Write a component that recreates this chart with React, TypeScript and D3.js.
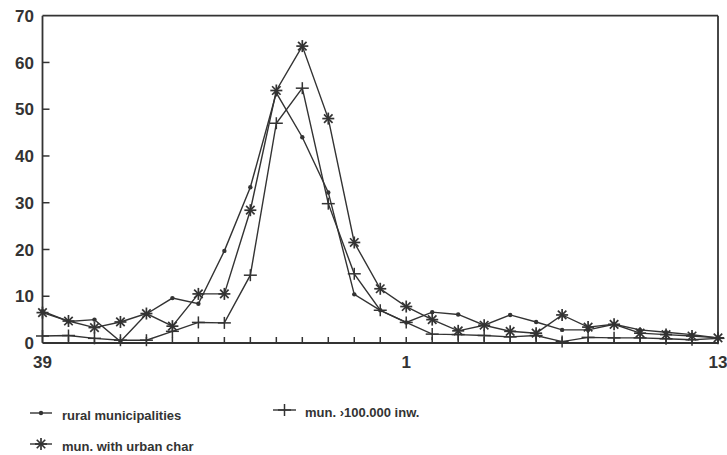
import React from "react";
import * as d3 from "d3";

const xLabels: string[] = [
  "39", "", "", "", "", "", "", "", "", "", "", "", "", "",
  "1", "", "", "", "", "", "", "", "", "", "", "", "13",
];

const ruralValues: number[] = [
  6.8, 4.6, 5.0, 0.3, 6.2, 9.6, 8.4, 19.7, 33.3, 53.5, 44.0, 32.2, 10.4, 7.0,
  4.4, 6.6, 6.1, 3.8, 6.0, 4.5, 2.8, 2.8, 4.0, 2.8, 2.3, 1.8, 1.1,
];

const urbanValues: number[] = [
  6.5, 4.7, 3.3, 4.5, 6.3, 3.6, 10.5, 10.5, 28.4, 54.0, 63.5, 48.0, 21.5, 11.6,
  7.8, 5.0, 2.6, 3.8, 2.5, 2.1, 6.0, 3.4, 4.0, 2.1, 1.8, 1.5, 1.1,
];

const bigValues: number[] = [
  1.5, 1.6, 1.0, 0.6, 0.6, 2.5, 4.4, 4.3, 14.5, 47.0, 54.5, 29.8, 14.8, 7.0,
  4.4, 1.9, 1.8, 1.6, 1.3, 1.6, 0.3, 1.2, 1.1, 1.1, 0.9, 0.7, 1.0,
];

const yTicks: number[] = [0, 10, 20, 30, 40, 50, 60, 70];

const legendLabels: string[] = [
  "rural municipalities",
  "mun. ›100.000 inw.",
  "mun. with urban char",
];

const INK = "#333";
const FONT = "'Liberation Sans', Arial, Helvetica, sans-serif";

type MarkerKind = "dot" | "star" | "plus";

function Marker({ kind, x, y }: { kind: MarkerKind; x: number; y: number }) {
  if (kind === "dot") {
    return <circle cx={x} cy={y} r={2.2} fill={INK} />;
  }
  if (kind === "plus") {
    return (
      <g stroke={INK} strokeWidth={1.5}>
        <line x1={x - 6.5} y1={y} x2={x + 6.5} y2={y} />
        <line x1={x} y1={y - 6} x2={x} y2={y + 6} />
      </g>
    );
  }
  const r = 6;
  const d = r * Math.SQRT1_2;
  return (
    <g stroke={INK} strokeWidth={1.7}>
      <line x1={x - r} y1={y} x2={x + r} y2={y} />
      <line x1={x} y1={y - r} x2={x} y2={y + r} />
      <line x1={x - d} y1={y - d} x2={x + d} y2={y + d} />
      <line x1={x - d} y1={y + d} x2={x + d} y2={y - d} />
    </g>
  );
}

export default function App() {
  const left = 42.5;
  const right = 718;
  const top = 15.7;
  const bottom = 343;

  const x = d3.scaleLinear().domain([0, xLabels.length - 1]).range([left, right]);
  const y = d3.scaleLinear().domain([0, 70]).range([bottom, top]);

  const line = d3
    .line<number>()
    .x((_, i) => x(i))
    .y((d) => y(d));

  const series: { values: number[]; kind: MarkerKind }[] = [
    { values: ruralValues, kind: "dot" },
    { values: bigValues, kind: "plus" },
    { values: urbanValues, kind: "star" },
  ];

  return (
    <svg
      width={727}
      height={455}
      style={{ position: "absolute", left: 0, top: 0, background: "#fff" }}
      fontFamily={FONT}
    >
      <rect x={0} y={0} width={727} height={455} fill="#fff" />
      {/* frame */}
      <g stroke={INK} strokeWidth={1.8} fill="none">
        <line x1={left} y1={top} x2={right} y2={top} />
        <line x1={right} y1={top} x2={right} y2={bottom} />
        <line x1={left} y1={top} x2={left} y2={bottom} />
        <line x1={left} y1={bottom} x2={right} y2={bottom} />
      </g>
      {/* y ticks */}
      {yTicks.map((t) => (
        <g key={"y" + t}>
          {t > 0 && t < 70 && (
            <line x1={left} x2={left + 7} y1={y(t)} y2={y(t)} stroke={INK} strokeWidth={1.5} />
          )}
          <text
            x={34}
            y={y(t)}
            dy="0.36em"
            textAnchor="end"
            fontSize={17}
            fontWeight="bold"
            fill={INK}
          >
            {t}
          </text>
        </g>
      ))}
      {/* x ticks */}
      {xLabels.map((lab, i) => (
        <g key={"x" + i}>
          {i > 0 && i < xLabels.length - 1 && (
            <line x1={x(i)} x2={x(i)} y1={bottom} y2={bottom - 6} stroke={INK} strokeWidth={1.5} />
          )}
          {lab && (
            <text
              x={x(i)}
              y={367.5}
              textAnchor="middle"
              fontSize={17}
              fontWeight="bold"
              fill={INK}
            >
              {lab}
            </text>
          )}
        </g>
      ))}
      {/* series */}
      {series.map((s, si) => (
        <g key={"s" + si}>
          <path d={line(s.values) || ""} fill="none" stroke={INK} strokeWidth={1.4} />
          {s.values.map((v, i) => (
            <Marker key={i} kind={s.kind} x={x(i)} y={y(v)} />
          ))}
        </g>
      ))}
      {/* legend */}
      <g fill={INK} fontSize={13} fontWeight="bold">
        <line x1={30} x2={52} y1={413} y2={413} stroke={INK} strokeWidth={1.4} />
        <Marker kind="dot" x={41} y={413} />
        <text x={62} y={420}>{legendLabels[0]}</text>

        <line x1={273} x2={296} y1={410} y2={410} stroke={INK} strokeWidth={1.4} />
        <Marker kind="plus" x={284.5} y={410} />
        <text x={305} y={416.5}>{legendLabels[1]}</text>

        <line x1={30} x2={52} y1={444} y2={444} stroke={INK} strokeWidth={1.4} />
        <Marker kind="star" x={41} y={444} />
        <text x={62} y={451}>{legendLabels[2]}</text>
      </g>
    </svg>
  );
}
